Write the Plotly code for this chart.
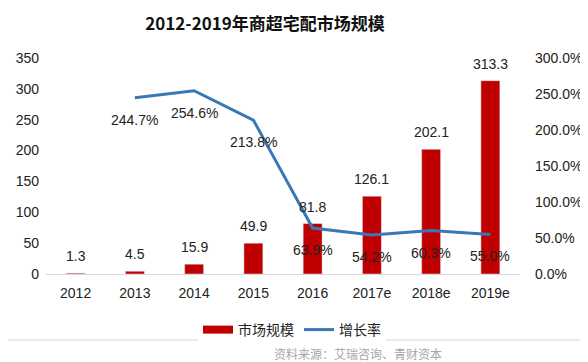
import plotly.graph_objects as go

years = ["2012", "2013", "2014", "2015", "2016", "2017e", "2018e", "2019e"]
market = [1.3, 4.5, 15.9, 49.9, 81.8, 126.1, 202.1, 313.3]
growth_years = ["2013", "2014", "2015", "2016", "2017e", "2018e", "2019e"]
growth = [244.7, 254.6, 213.8, 63.9, 54.2, 60.3, 55.0]
left_ticks = [0, 50, 100, 150, 200, 250, 300, 350]
right_ticks = [0, 50, 100, 150, 200, 250, 300]

cjk = "Noto Sans CJK SC"
latin = "Liberation Sans"
dark = "#222222"

fig = go.Figure()
fig.add_trace(go.Bar(
    x=years, y=market, name="市场规模",
    marker=dict(color="#C00000"),
    width=0.32, showlegend=False,
))
# legend proxy for the bars (wide rectangle look)
fig.add_trace(go.Scatter(
    x=[years[0]], y=[None], name="市场规模", mode="lines",
    line=dict(color="#C00000", width=8),
))
fig.add_trace(go.Scatter(
    x=growth_years, y=growth, name="增长率", yaxis="y2",
    mode="lines",
    line=dict(color="#3A78B5", width=3),
))

for x, v in zip(years, market):
    fig.add_annotation(x=years.index(x), y=v, xref="x", yref="y", text=f"{v:.1f}",
                       showarrow=False, yshift=17, yanchor="middle",
                       font=dict(size=14, color=dark, family=latin))
for x, v in zip(growth_years, growth):
    fig.add_annotation(x=years.index(x), y=v, xref="x", yref="y2", text=f"{v:.1f}%",
                       showarrow=False, yshift=-22, yanchor="middle",
                       font=dict(size=14, color=dark, family=latin))

fig.update_layout(
    width=588, height=362,
    margin=dict(l=38, r=76, t=50, b=96, autoexpand=False),
    paper_bgcolor="white", plot_bgcolor="white",
    font=dict(family=latin, size=13, color=dark),
    title=dict(text="<b>2012-2019年商超宅配市场规模</b>", x=257/588, xanchor="center",
               xref="container", yref="container",
               y=1 - 16/362, yanchor="middle", font=dict(size=17, color="#111111", family=cjk)),
    xaxis=dict(type="category", categoryorder="array", categoryarray=years,
               range=[-0.5, len(years) - 0.5],
               showgrid=False, showline=True, linecolor="#D9D9D9", linewidth=1,
               ticks="", tickfont=dict(size=14, color=dark), ticklabelstandoff=6),
    yaxis=dict(range=[0, 350], tickvals=left_ticks, showgrid=False, zeroline=False,
               showline=False, ticks="", tickfont=dict(size=14, color=dark),
               ticklabelstandoff=6),
    yaxis2=dict(range=[0, 300], tickvals=right_ticks,
                ticktext=[f"{v:.1f}%" for v in right_ticks],
                overlaying="y", side="right", showgrid=False, zeroline=False,
                showline=False, ticks="", tickfont=dict(size=14, color=dark),
                ticklabelstandoff=14),
    legend=dict(orientation="h", x=(190 - 38) / 474, xanchor="left",
                y=-(322 - 266) / 216, yanchor="middle",
                font=dict(size=14, color=dark, family=cjk), traceorder="normal",
                itemwidth=30),
    showlegend=True,
)

fig.add_shape(type="line", xref="paper", yref="paper", x0=-38/474, x1=(585-38)/474,
              y0=-(332-266)/216, y1=-(332-266)/216, line=dict(color="#D9D9D9", width=1))
fig.add_annotation(text="资料来源：艾瑞咨询、青财资本", xref="paper", yref="paper",
                   x=(350-38)/474, y=-(345-266)/216, showarrow=False,
                   font=dict(size=12, color="#A6A6A6", family=cjk),
                   xanchor="center", yanchor="middle")

fig.write_html("out.html")
